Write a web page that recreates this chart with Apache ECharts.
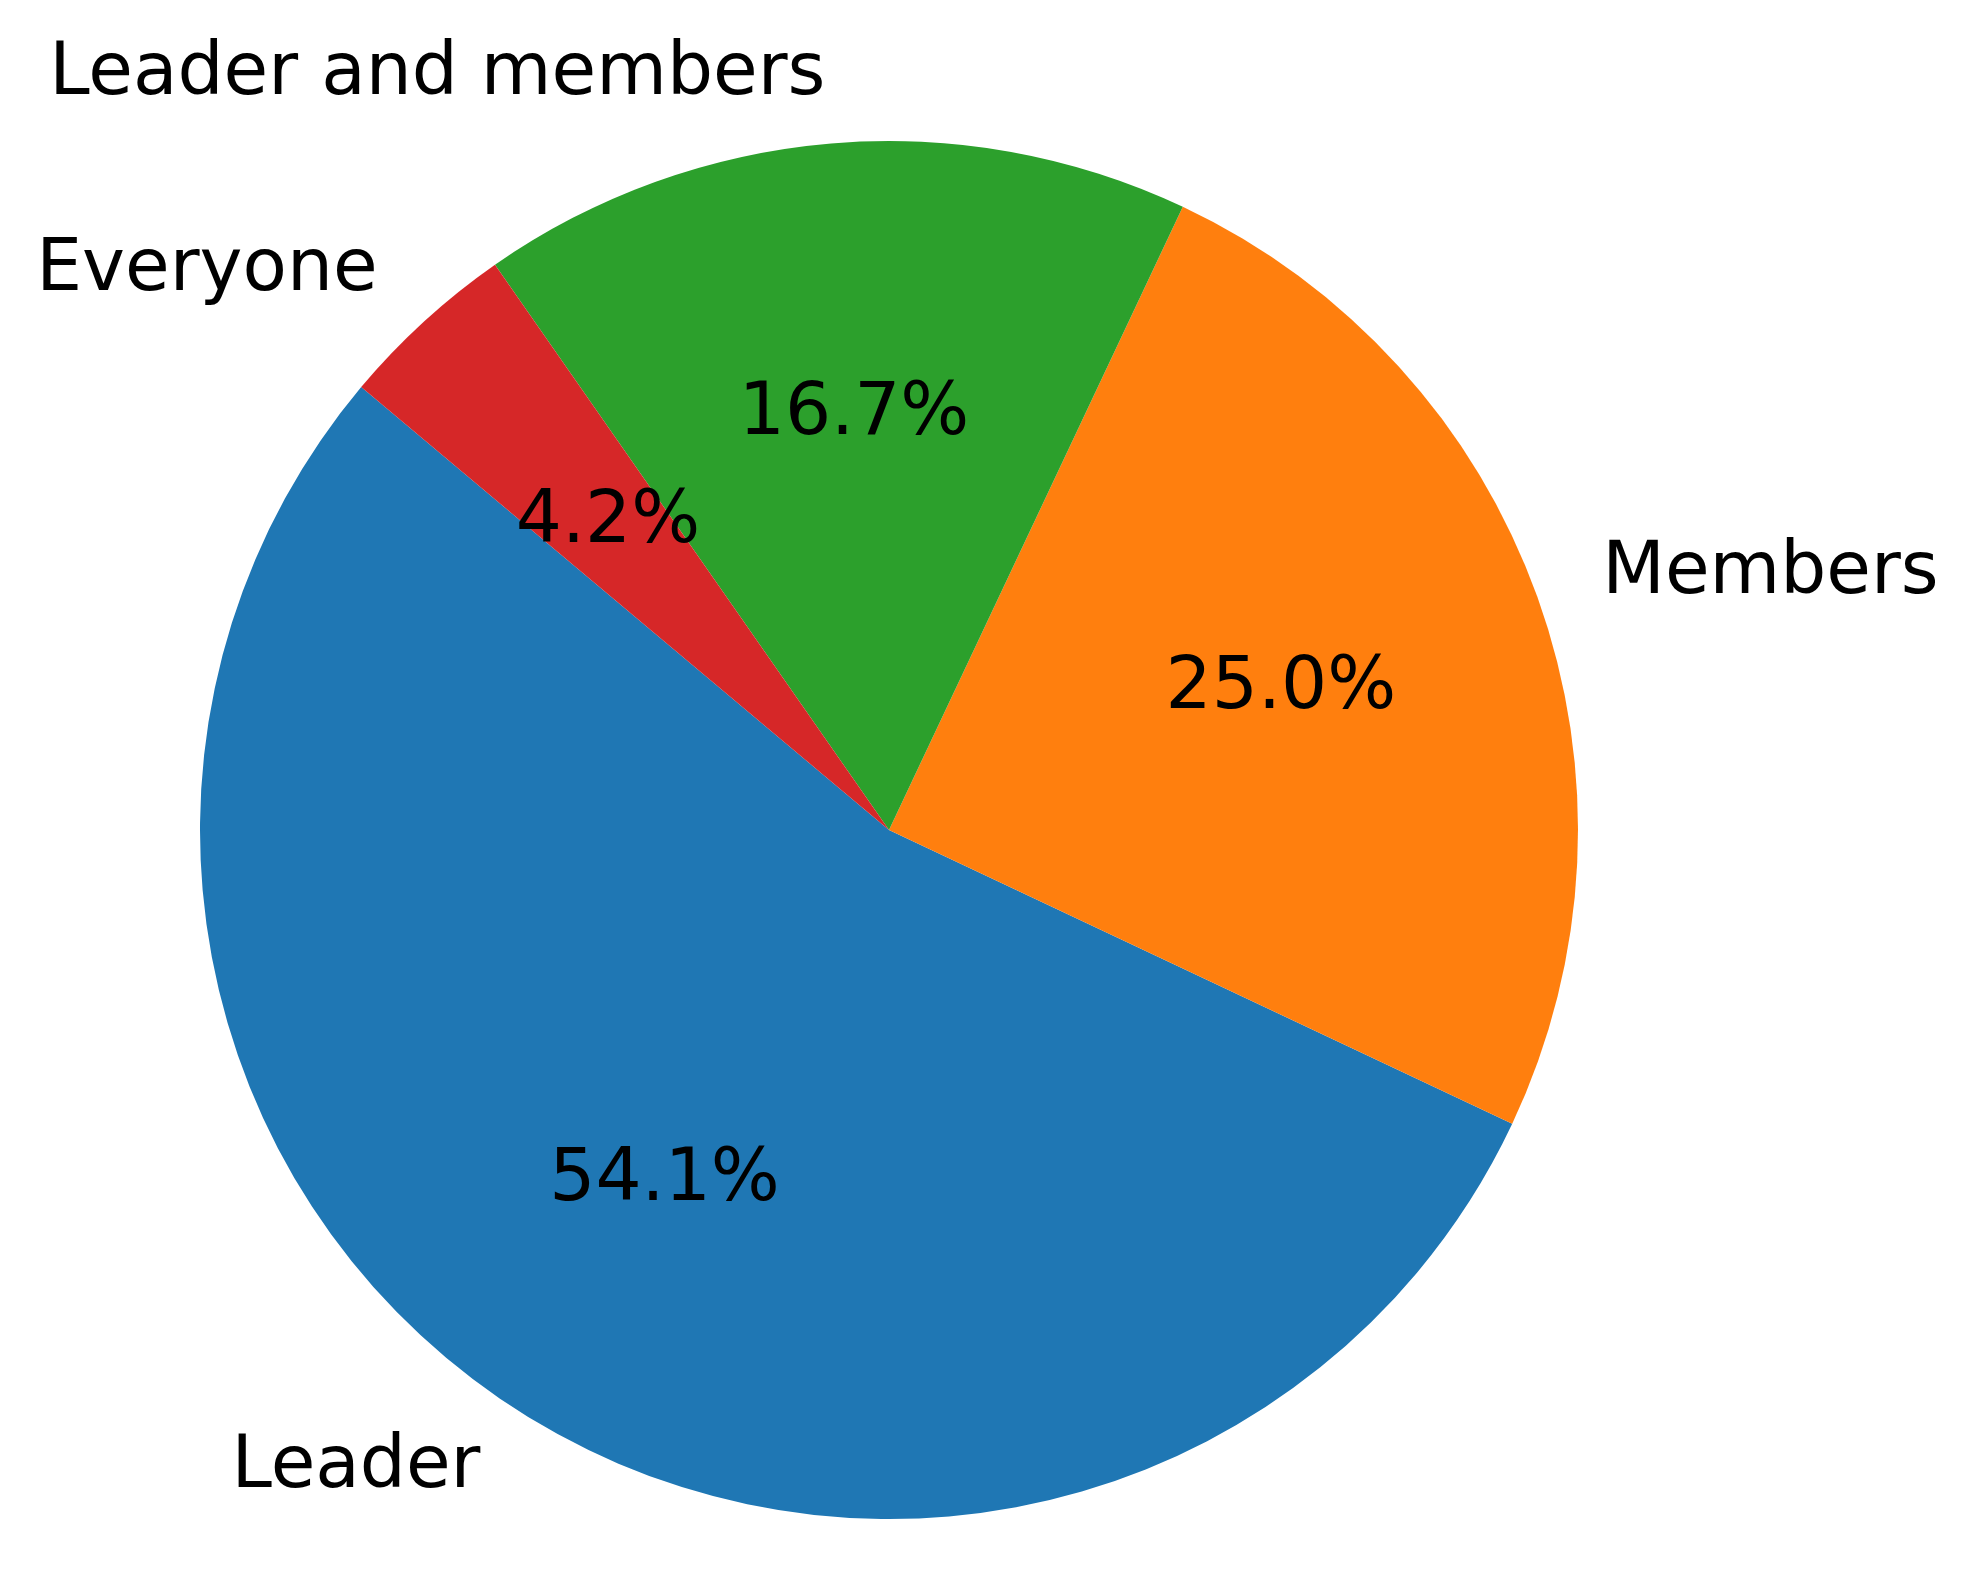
<!DOCTYPE html>
<html>
<head>
<meta charset="utf-8">
<script src="https://cdn.jsdelivr.net/npm/echarts@6/dist/echarts.min.js"></script>
<style>
html,body{margin:0;padding:0;background:#fff;}
#chart{width:1971px;height:1577px;}
</style>
</head>
<body>
<div id="chart"></div>
<script>
// Data
var categories = ['Leader', 'Members', 'Leader and members', 'Everyone'];
var shares = [54.1, 25.0, 16.7, 4.2];
var colors = ['#1f77b4', '#ff7f0e', '#2ca02c', '#d62728'];

var CX = 889, CY = 830, R = 689;
var FONT = 'DejaVu Sans';
var FS = 72.6;

var pieData = categories.map(function (c, i) {
  return { name: c, value: shares[i], itemStyle: { color: colors[i] } };
});
var pctData = categories.map(function (c, i) {
  return { name: c, value: shares[i] };
});

var chart = echarts.init(document.getElementById('chart'), null, { renderer: 'canvas' });
chart.setOption({
  backgroundColor: '#ffffff',
  animation: false,
  series: [
    {
      type: 'pie',
      center: [CX, CY],
      radius: [0, R],
      startAngle: 140,
      clockwise: false,
      avoidLabelOverlap: false,
      silent: true,
      data: pieData,
      itemStyle: { borderWidth: 0 },
      label: {
        show: true,
        position: 'outside',
        alignTo: 'none',
        distanceToLabelLine: 0,
        formatter: '{b}',
        color: '#000',
        fontFamily: FONT,
        fontSize: FS,
        verticalAlign: 'middle'
      },
      labelLine: { show: false, length: R * 0.1, length2: 0 },
      emphasis: { disabled: true }
    },
    {
      type: 'pie',
      center: [CX, CY],
      radius: [0, R * 1.2],
      startAngle: 140,
      clockwise: false,
      avoidLabelOverlap: false,
      silent: true,
      z: 5,
      data: pctData,
      itemStyle: { color: 'rgba(0,0,0,0)', borderWidth: 0 },
      label: {
        show: true,
        position: 'inside',
        formatter: function (p) { return p.value.toFixed(1) + '%'; },
        color: '#000',
        fontFamily: FONT,
        fontSize: FS
      },
      labelLine: { show: false },
      emphasis: { disabled: true }
    }
  ]
});
</script>
</body>
</html>
